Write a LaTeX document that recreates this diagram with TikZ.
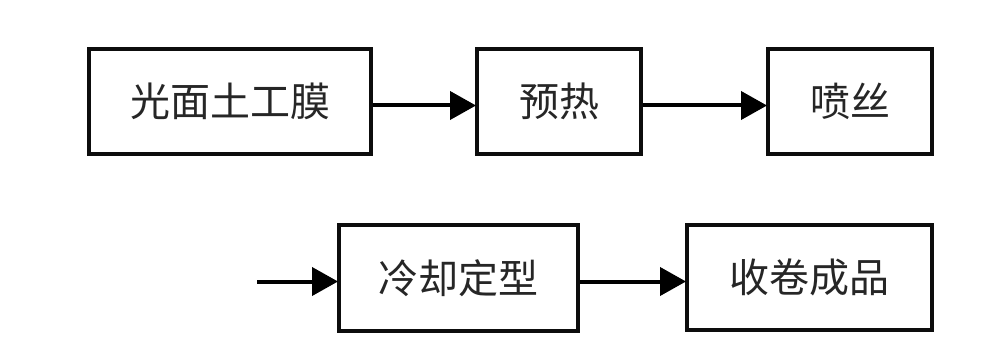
\documentclass[tikz,border=0pt]{standalone}
\usepackage{fontspec}
\newfontfamily\cjk{Noto Sans CJK SC}
\usetikzlibrary{arrows.meta}
\begin{document}
\begin{tikzpicture}[x=1pt,y=1pt,
  stepbox/.style={draw=black!95,line width=4pt,inner sep=0pt,font=\cjk\fontsize{40}{40}\selectfont,text=black!85},
  arr/.style={line width=4pt,-{Triangle[length=26pt,width=28pt]},shorten >=-1pt}]
\useasboundingbox (0,0) rectangle (999,362);
\node[stepbox,minimum width=282pt,minimum height=105pt] (b1) at (230,260.5) {光面土工膜};
\node[stepbox,minimum width=164pt,minimum height=105pt] (b2) at (559,260.5) {预热};
\node[stepbox,minimum width=164pt,minimum height=105pt] (b3) at (850,260.5) {喷丝};
\node[stepbox,minimum width=239pt,minimum height=106pt] (b4) at (458.5,84) {冷却定型};
\node[stepbox,minimum width=245pt,minimum height=105pt] (b5) at (809.5,84.5) {收卷成品};
\coordinate (s) at (257,80.5);
\draw[arr] ([yshift=-4pt]b1.east) -- ([yshift=-4pt]b2.west);
\draw[arr] ([yshift=-4pt]b2.east) -- ([yshift=-4pt]b3.west);
\draw[arr] (s) -- (s -| b4.west);
\draw[arr] ([yshift=-3.5pt]b4.east) -- ([yshift=-3.5pt]b4.east -| b5.west);
\end{tikzpicture}
\end{document}
